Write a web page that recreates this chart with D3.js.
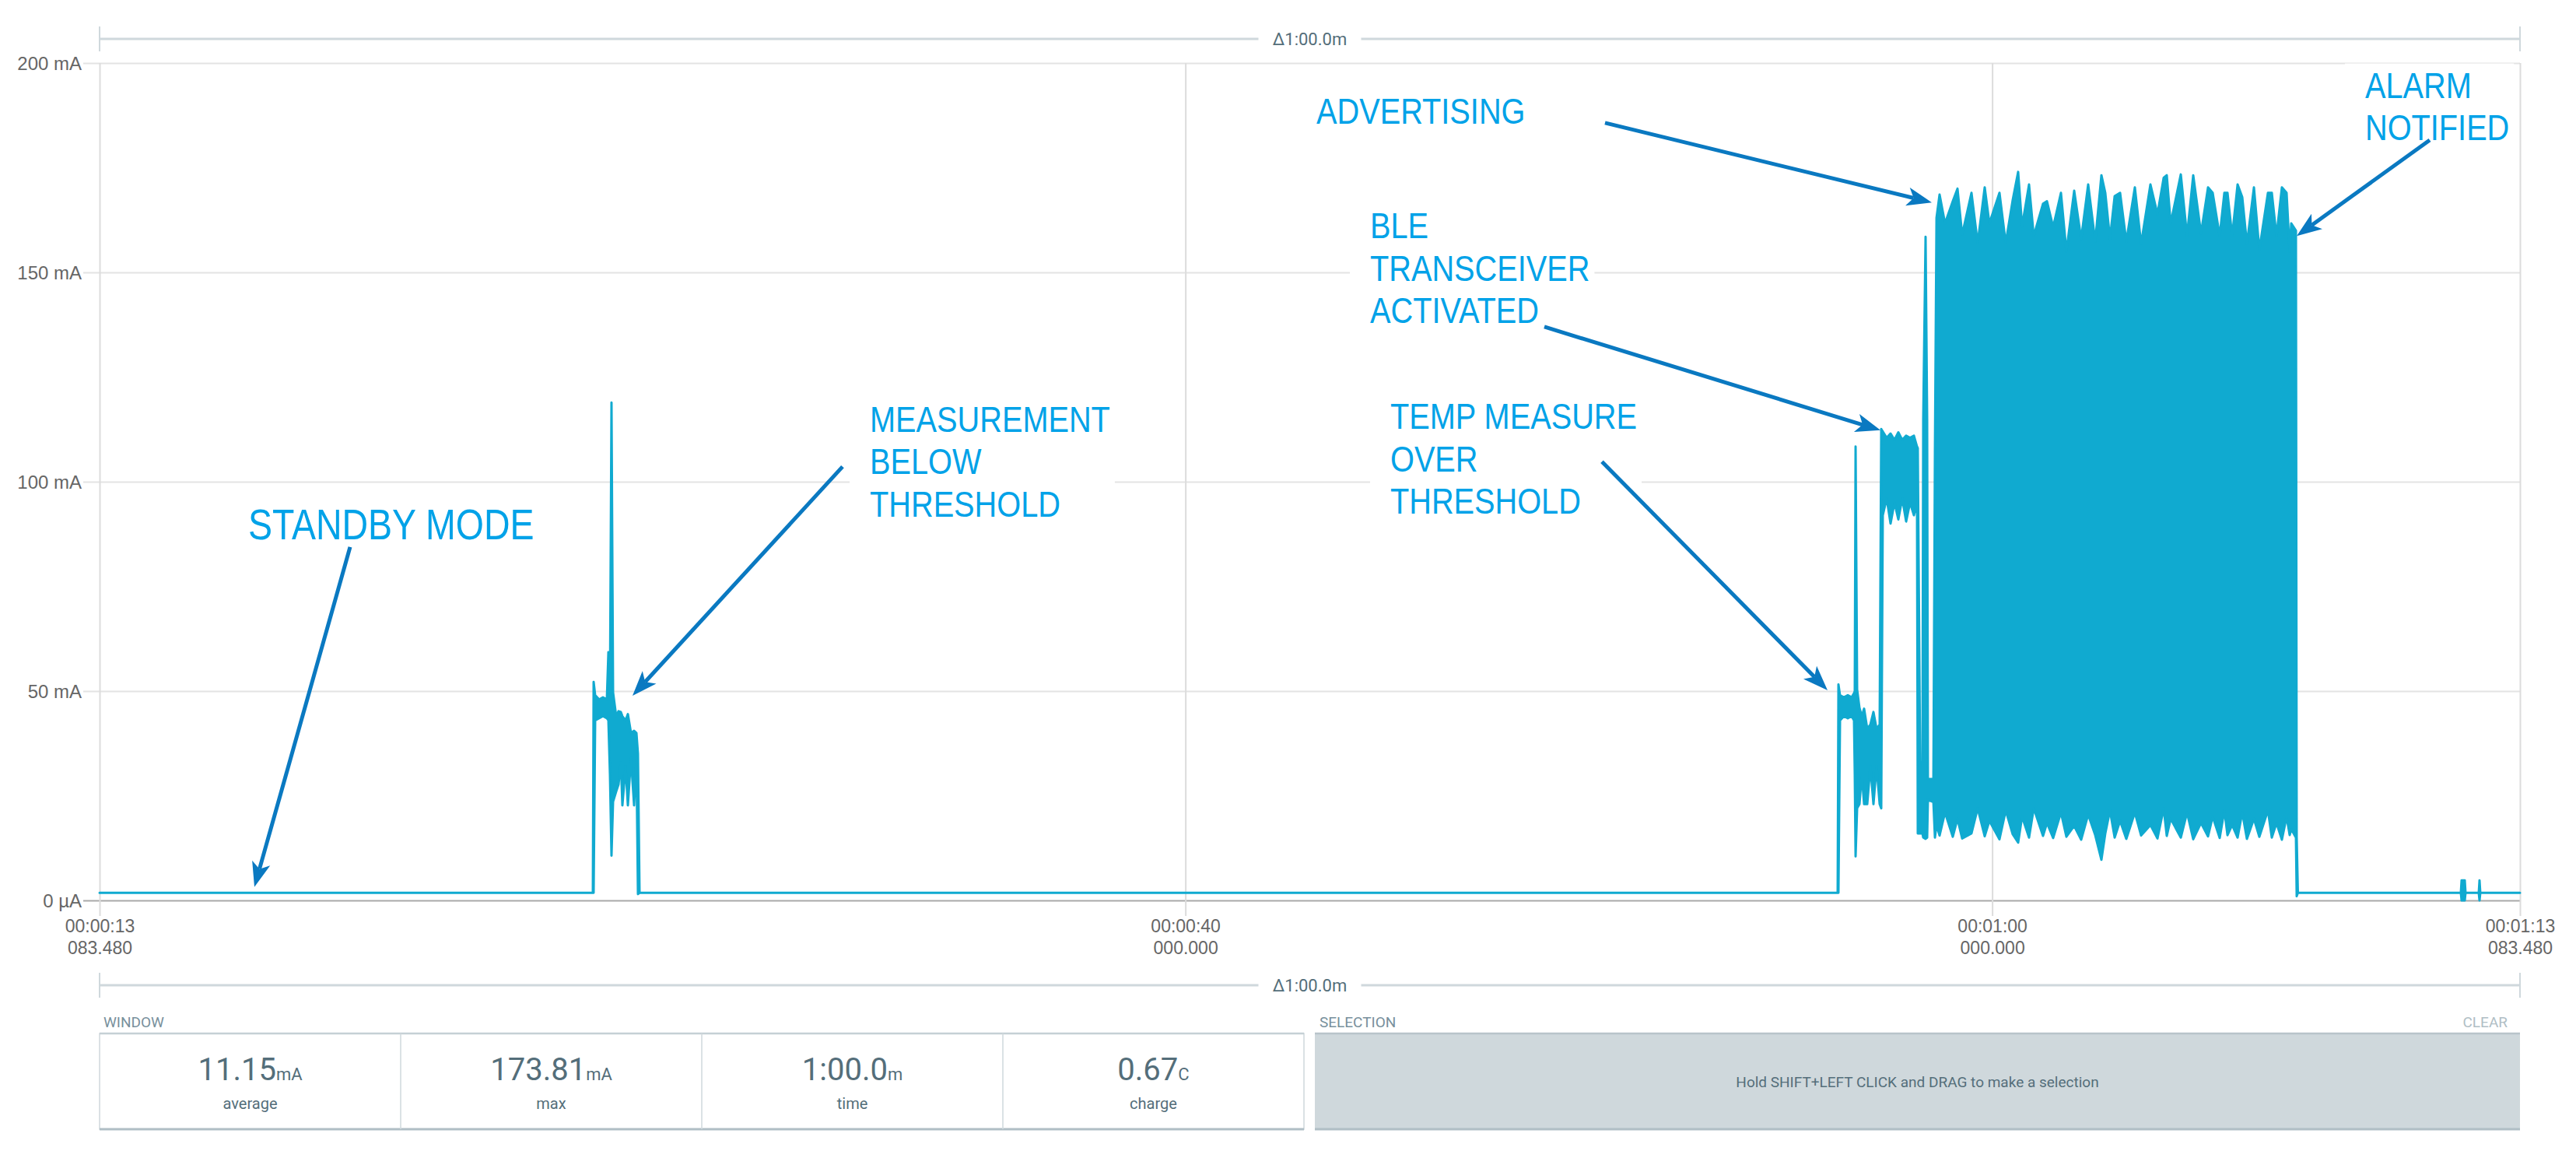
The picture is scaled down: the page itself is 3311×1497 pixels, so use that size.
<!DOCTYPE html>
<html>
<head>
<meta charset="utf-8">
<script src="https://cdn.jsdelivr.net/npm/d3@7"></script>
<style>
  body { margin: 0; background: #fff; }
  svg { display: block; font-family: Roboto, "Noto Sans", sans-serif; }
</style>
</head>
<body>
<svg id="chart"></svg>
<script>
// ---- data ----
// time is seconds into the 60 s window that starts at 00:00:13.083480
const windowStart = 13.08348;
const windowLength = 60;

const yTicks = [0, 50, 100, 150, 200];
const yTickLabels = ['0 µA', '50 mA', '100 mA', '150 mA', '200 mA'];

const xTicks = [0, 26.91652, 46.91652, 60];
const xTickLines1 = ['00:00:13', '00:00:40', '00:01:00', '00:01:13'];
const xTickLines2 = ['083.480', '000.000', '000.000', '083.480'];

// current envelope: sample time (s), min (mA), max (mA)
const traceTime = [
  0, 12.228,
  // measurement below threshold
  12.247, 12.285, 12.382, 12.478, 12.575, 12.613, 12.652, 12.690, 12.729, 12.806,
  12.864, 12.922, 12.960, 13.038, 13.096, 13.173, 13.250, 13.308, 13.346, 13.385,
  43.086,
  // temp measure over threshold
  43.105, 43.144, 43.240, 43.337, 43.433, 43.491, 43.510, 43.530, 43.568, 43.626,
  43.684, 43.741, 43.819, 43.896, 43.973, 44.050, 44.127,
  // BLE transceiver activated
  44.166, 44.204, 44.301, 44.397, 44.494, 44.590, 44.686, 44.783, 44.879, 44.976,
  45.053, 45.072, 45.130, 45.188, 45.207, 45.265, 45.304, 45.323, 45.459, 45.497,
  // advertising
  45.536, 45.612, 45.747, 45.940, 46.056, 46.172, 46.403, 46.557, 46.731, 46.847,
  47.097, 47.252, 47.425, 47.560, 47.657, 47.830, 47.946, 48.177, 48.274, 48.428,
  48.621, 48.756, 48.949, 49.122, 49.296, 49.470, 49.624, 49.720, 49.836, 49.952,
  50.087, 50.241, 50.453, 50.608, 50.839, 51.013, 51.167, 51.244, 51.341, 51.592,
  51.746, 51.900, 52.093, 52.267, 52.382, 52.556, 52.672, 52.749, 52.865, 53.000,
  53.115, 53.231, 53.405, 53.539, 53.752, 53.848, 53.964, 54.098, 54.214, 54.291,
  54.330, 54.446, 54.465, 54.494,
  // back to standby, two small blips
  58.534, 58.553, 58.631, 58.650, 58.978, 58.997, 59.016, 60
];
const traceMin = [
  1.8, 1.8,
  1.8, 43, 43.5, 44, 43.5, 43, 30, 10.7, 23.6, 26,
  27.7, 33, 22.7, 32, 22.7, 34, 22.7, 34, 1.5, 1.8,
  1.8,
  1.8, 43, 44, 43.5, 44, 43, 30, 10.5, 22, 23,
  30, 23, 23, 32, 23, 32, 23,
  22, 92, 96, 90, 95, 91, 96, 90.5, 95, 92,
  95, 16, 16, 16, 15, 14.7, 15, 24, 23.5, 15,
  18, 15.5, 21, 15.2, 19.5, 14.8, 16, 22, 15.3, 19,
  14.6, 21.5, 15.8, 13.8, 20, 15, 22, 15.4, 18.5, 14.9,
  21, 15.2, 17.8, 14.5, 20.5, 15.6, 9.7, 16, 21.5, 15,
  19, 14.7, 21, 15.5, 18, 14.8, 22, 15.4, 19.5, 15,
  21, 14.6, 18.5, 15.3, 20, 14.9, 21.5, 15.6, 18, 15,
  21, 14.7, 19.5, 15.2, 21.5, 15, 18.5, 14.5, 20, 15.6,
  17, 15, 1, 1.8,
  1.8, 0, 0, 1.8, 1.8, 0, 1.8, 1.8
];
const traceMax = [
  1.8, 1.8,
  52.2, 49, 48, 48.5, 48, 59.3, 50, 118.9, 49.7, 44,
  45.2, 45, 44, 43, 44.5, 40, 40.5, 40, 35, 1.8,
  1.8,
  51.6, 49, 48.5, 49, 48.5, 49.5, 50, 108.4, 50.4, 46,
  44, 45.8, 41, 42, 45, 41, 42,
  112.6, 112, 110.5, 111.5, 110, 111.8, 110, 111, 110.5, 111,
  108.4, 108, 33, 33, 115, 158.5, 115, 29, 29, 107,
  163, 168.6, 161.7, 167, 170, 159, 169, 157, 170.3, 161.7,
  169, 157, 167.3, 174, 161, 171, 158.7, 166.4, 167, 160.8,
  169, 155, 169.5, 158, 171, 157.4, 173.2, 169, 158, 168.2,
  169, 157.4, 170.3, 156.8, 171, 163.9, 172.6, 173.2, 161.7, 173.4,
  158.7, 173.2, 159.3, 170.3, 169, 158.7, 169, 169, 158.7, 171,
  168, 156.8, 170.3, 155.4, 169, 169, 158.7, 170.3, 169, 155,
  161.7, 160, 15, 1.8,
  1.8, 4.8, 4.8, 1.8, 1.8, 4.8, 1.8, 1.8
];

// annotations: text lines, label anchor and arrow tail/tip in data units (s, mA)
const noteLines = [
  ['STANDBY MODE'],
  ['MEASUREMENT', 'BELOW', 'THRESHOLD'],
  ['TEMP MEASURE', 'OVER', 'THRESHOLD'],
  ['BLE', 'TRANSCEIVER', 'ACTIVATED'],
  ['ADVERTISING'],
  ['ALARM', 'NOTIFIED']
];
const noteAnchor = [[3.684, 86.25], [19.094, 111.9], [31.996, 112.6], [31.495, 158.1], [30.164, 185.5], [56.162, 191.7]];
const arrowTail = [[6.210, 84.4], [18.418, 103.6], [37.242, 104.8], [35.815, 137.0], [37.319, 185.7], [57.763, 181.6]];
const arrowTip = [[3.838, 3.2], [13.211, 48.9], [42.835, 50.2], [44.147, 112.3], [45.419, 166.7], [54.465, 158.7]];

const rulerLabel = 'Δ1:00.0m';
const statValues = ['11.15', '173.81', '1:00.0', '0.67'];
const statUnits = ['mA', 'mA', 'm', 'C'];
const statNames = ['average', 'max', 'time', 'charge'];

// ---- layout ----
const W = 3311, H = 1497;
const margin = { top: 81, right: 72, bottom: 340, left: 128 };
const plotW = W - margin.left - margin.right;
const plotH = H - margin.top - margin.bottom;

const svg = d3.select('#chart').attr('width', W).attr('height', H);
svg.append('rect').attr('width', W).attr('height', H).attr('fill', '#fff');

const x = d3.scaleLinear().domain([0, windowLength]).range([margin.left, margin.left + plotW]);
const y = d3.scaleLinear().domain([0, 200]).range([margin.top + plotH, margin.top]);

// y axis + horizontal grid
const yAxis = svg.append('g')
  .attr('transform', `translate(${margin.left},0)`)
  .call(d3.axisLeft(y).tickValues(yTicks).tickFormat((d, i) => yTickLabels[i])
    .tickSizeInner(-plotW).tickSizeOuter(0).tickPadding(23));
yAxis.select('.domain').remove();
yAxis.selectAll('.tick line')
  .attr('x1', -21)
  .attr('stroke', d => d === 0 ? '#a9a9a9' : '#e3e3e3')
  .attr('stroke-width', 2);
yAxis.selectAll('.tick text')
  .attr('fill', '#666').style('font-size', '24px').attr('dy', '0.34em');

// x axis + vertical grid
const xAxis = svg.append('g')
  .attr('transform', `translate(0,${margin.top + plotH})`)
  .call(d3.axisBottom(x).tickValues(xTicks).tickFormat('').tickSizeInner(-plotH).tickSizeOuter(0));
xAxis.select('.domain').remove();
xAxis.selectAll('.tick line')
  .attr('y1', 20)
  .attr('stroke', '#dcdcdc')
  .attr('stroke-width', 2);
xAxis.selectAll('.tick').each(function(d, i) {
  const t = d3.select(this).append('text')
    .attr('text-anchor', 'middle').attr('fill', '#666').style('font-size', '23px');
  t.append('tspan').attr('x', 0).attr('y', 41).text(xTickLines1[i]);
  t.append('tspan').attr('x', 0).attr('y', 69).text(xTickLines2[i]);
});

// trace, drawn as min/max envelope
const trace = traceTime.map((t, i) => ({ t: t, lo: traceMin[i], hi: traceMax[i] }));
const area = d3.area()
  .x(d => x(d.t))
  .y0(d => y(d.lo))
  .y1(d => y(d.hi));
svg.append('path')
  .datum(trace)
  .attr('d', area)
  .attr('fill', '#10aad0')
  .attr('stroke', '#10aad0')
  .attr('stroke-width', 3)
  .attr('stroke-linejoin', 'round');

// delta rulers above and below the plot
function ruler(yPos) {
  const g = svg.append('g');
  const x0 = x(0), x1 = x(windowLength);
  g.append('line').attr('x1', x0).attr('x2', x1).attr('y1', yPos).attr('y2', yPos)
    .attr('stroke', '#cfd8dc').attr('stroke-width', 3);
  [x0, x1].forEach(xx => {
    g.append('line').attr('x1', xx).attr('x2', xx).attr('y1', yPos - 16).attr('y2', yPos + 16)
      .attr('stroke', '#cfd8dc').attr('stroke-width', 2);
  });
  const cx = (x0 + x1) / 2;
  g.append('rect').attr('x', cx - 66).attr('y', yPos - 16).attr('width', 132).attr('height', 32).attr('fill', '#fff');
  g.append('text').attr('x', cx).attr('y', yPos + 8).attr('text-anchor', 'middle')
    .attr('fill', '#546e7a').style('font-size', '22px').text(rulerLabel);
}
ruler(50);
ruler(1266);

// annotations (narrow sans: Liberation Sans squeezed horizontally)
const noteColor = '#00a2e8', arrowColor = '#0a79c1';
const squeeze = 0.845;
noteLines.forEach((lines, i) => {
  const size = i === 0 ? 55 : 47;
  const lineGap = 54.5;
  const g = svg.append('g')
    .attr('transform', `translate(${x(noteAnchor[i][0])},${y(noteAnchor[i][1])})`);
  const bg = g.append('rect').attr('fill', '#fff');
  const t = g.append('text')
    .attr('transform', `scale(${squeeze},1)`)
    .attr('fill', noteColor)
    .style('font-family', '"Liberation Sans", Arial, sans-serif')
    .style('font-size', size + 'px');
  lines.forEach((ln, j) => {
    t.append('tspan').attr('x', 0).attr('y', j * lineGap).text(ln);
  });
  if (lines.length > 1) {
    const b = t.node().getBBox();
    bg.attr('x', -26).attr('y', b.y - 2)
      .attr('width', b.width * squeeze + 32).attr('height', b.height + 4);
  }
});

arrowTail.forEach((tail, i) => {
  const x1 = x(tail[0]), y1 = y(tail[1]);
  const x2 = x(arrowTip[i][0]), y2 = y(arrowTip[i][1]);
  const len = Math.hypot(x2 - x1, y2 - y1);
  const ux = (x2 - x1) / len, uy = (y2 - y1) / len;
  const px = -uy, py = ux;
  const headLen = 32, half = 12, notch = 8;
  const bx = x2 - ux * headLen, by = y2 - uy * headLen;
  const nx = x2 - ux * (headLen - notch), ny = y2 - uy * (headLen - notch);
  svg.append('line').attr('x1', x1).attr('y1', y1).attr('x2', nx).attr('y2', ny)
    .attr('stroke', arrowColor).attr('stroke-width', 5);
  svg.append('path')
    .attr('d', `M${x2},${y2}L${bx + px * half},${by + py * half}L${nx},${ny}L${bx - px * half},${by - py * half}Z`)
    .attr('fill', arrowColor);
});

// window / selection panels
const panelTop = 1328, panelBottom = 1451;
const winX0 = x(0), winX1 = 1676;
const selX0 = 1690, selX1 = x(windowLength);

svg.append('text').attr('x', winX0 + 5).attr('y', 1320).attr('fill', '#78909c')
  .style('font-size', '19px').text('WINDOW');
svg.append('text').attr('x', selX0 + 6).attr('y', 1320).attr('fill', '#78909c')
  .style('font-size', '19px').text('SELECTION');
svg.append('text').attr('x', selX1 - 16).attr('y', 1320).attr('fill', '#b0bec5')
  .attr('text-anchor', 'end').style('font-size', '19px').text('CLEAR');

svg.append('rect').attr('x', winX0).attr('y', panelTop).attr('width', winX1 - winX0)
  .attr('height', panelBottom - panelTop).attr('fill', '#fff').attr('stroke', '#cfd8dc').attr('stroke-width', 1.5);
svg.append('line').attr('x1', winX0).attr('x2', winX1).attr('y1', panelTop).attr('y2', panelTop)
  .attr('stroke', '#c5d0d5').attr('stroke-width', 2.5);
svg.append('line').attr('x1', winX0).attr('x2', winX1).attr('y1', panelBottom).attr('y2', panelBottom)
  .attr('stroke', '#b0bec5').attr('stroke-width', 3);

const cell = d3.scaleBand().domain(d3.range(statNames.length)).range([winX0, winX1]);
statNames.forEach((name, i) => {
  const cx = cell(i) + cell.bandwidth() / 2;
  if (i > 0) {
    svg.append('line').attr('x1', cell(i)).attr('x2', cell(i)).attr('y1', panelTop).attr('y2', panelBottom)
      .attr('stroke', '#cfd8dc').attr('stroke-width', 1.5);
  }
  const v = svg.append('text').attr('x', cx).attr('y', 1388).attr('text-anchor', 'middle').attr('fill', '#546e7a');
  v.append('tspan').style('font-size', '40px').text(statValues[i]);
  v.append('tspan').style('font-size', '22px').text(statUnits[i]);
  svg.append('text').attr('x', cx).attr('y', 1425).attr('text-anchor', 'middle').attr('fill', '#546e7a')
    .style('font-size', '20px').text(name);
});

svg.append('rect').attr('x', selX0).attr('y', panelTop).attr('width', selX1 - selX0)
  .attr('height', panelBottom - panelTop).attr('fill', '#cfd8dc');
svg.append('line').attr('x1', selX0).attr('x2', selX1).attr('y1', panelTop).attr('y2', panelTop)
  .attr('stroke', '#b8c4ca').attr('stroke-width', 2.5);
svg.append('line').attr('x1', selX0).attr('x2', selX1).attr('y1', panelBottom).attr('y2', panelBottom)
  .attr('stroke', '#b0bec5').attr('stroke-width', 3);
svg.append('text').attr('x', (selX0 + selX1) / 2).attr('y', 1397).attr('text-anchor', 'middle')
  .attr('fill', '#546e7a').style('font-size', '19px')
  .text('Hold SHIFT+LEFT CLICK and DRAG to make a selection');
</script>
</body>
</html>
